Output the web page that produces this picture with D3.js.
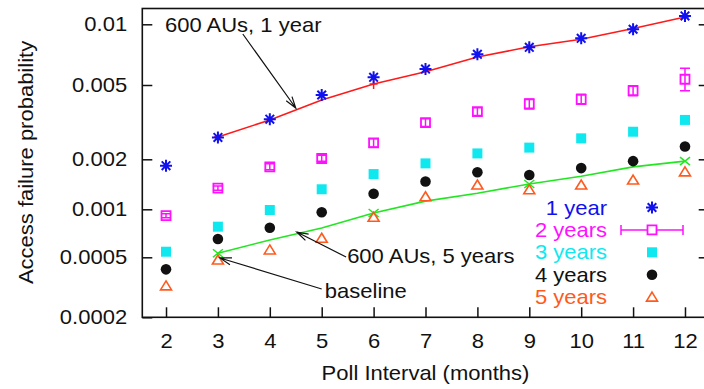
<!DOCTYPE html>
<html>
<head>
<meta charset="utf-8">
<script src="https://cdn.jsdelivr.net/npm/d3@7"></script>
<style>
  body { margin: 0; background: #fff; }
  svg { display: block; }
  text { font-family: "Liberation Sans", Arial, sans-serif; fill: #111; }
</style>
</head>
<body>
<svg id="chart" width="704" height="389"></svg>
<script>
// values
const polls = [2, 3, 4, 5, 6, 7, 8, 9, 10, 11, 12];
const oneYear = [0.00183, 0.00262, 0.00328, 0.00442, 0.00546, 0.0060, 0.0071, 0.00769, 0.00852, 0.00945, 0.0110];
const twoYears = [0.000912, 0.00134, 0.0018, 0.00202, 0.00245, 0.00314, 0.0036, 0.00396, 0.00419, 0.00466, 0.00534];
const twoYearsLo = [0.000885, 0.0013, 0.00173, 0.00195, 0.00233, 0.0030, 0.00343, 0.00372, 0.00394, 0.00438, 0.00466];
const twoYearsHi = [0.000937, 0.00138, 0.00188, 0.0021, 0.00258, 0.0033, 0.00378, 0.00421, 0.00446, 0.00496, 0.00605];
const threeYears = [0.000542, 0.000778, 0.00099, 0.00132, 0.00163, 0.00189, 0.00215, 0.00231, 0.00259, 0.00281, 0.00325];
const fourYears = [0.000416, 0.000651, 0.000766, 0.000958, 0.00124, 0.00147, 0.00167, 0.00161, 0.00177, 0.00195, 0.00234];
const fiveYears = [0.000323, 0.00048, 0.000556, 0.000658, 0.000891, 0.00119, 0.0014, 0.00131, 0.0014, 0.0015, 0.00168];

const modelPolls = [3, 4, 5, 6, 7, 8, 9, 10, 11, 12];
const model1Year = [0.00263, 0.00325, 0.00416, 0.00506, 0.00582, 0.00688, 0.00774, 0.00843, 0.00953, 0.01087];
const model5Year = [0.00053, 0.000642, 0.000763, 0.000948, 0.00112, 0.00125, 0.00142, 0.00158, 0.0018, 0.00195];
const modelMarkPolls = [3, 6, 9, 12];

const legendLabels = ["1 year", "2 years", "3 years", "4 years", "5 years"];
const xTicks = [2, 3, 4, 5, 6, 7, 8, 9, 10, 11, 12];
const yTicks = [0.01, 0.005, 0.002, 0.001, 0.0005, 0.0002];
const yTickLabels = ["0.01", "0.005", "0.002", "0.001", "0.0005", "0.0002"];

const svg = d3.select("#chart");
const plotLeft = 142.3, plotRight = 708.7, plotTop = 8.5, plotBottom = 317.3;

const x = d3.scaleLinear().domain([1.543, 12.457]).range([plotLeft, plotRight]);
// the printed axis is not evenly logarithmic, so pin each labelled tick
const yLog = d3.scaleLinear()
  .domain(yTicks.map(Math.log10))
  .range([24.3, 85, 159.3, 209.3, 257.3, plotBottom]);
const y = v => yLog(Math.log10(v));

const stretch = "scale(1.1,1)";
function label(tx, ty, str, anchor, color) {
  return svg.append("text")
    .attr("transform", `translate(${tx},${ty}) ${stretch}`)
    .attr("text-anchor", anchor || "start")
    .attr("font-size", 20)
    .style("fill", color || "#111")
    .text(str);
}

// frame
svg.append("rect")
  .attr("x", plotLeft).attr("y", plotTop)
  .attr("width", plotRight - plotLeft).attr("height", plotBottom - plotTop)
  .attr("fill", "none").attr("stroke", "#111").attr("stroke-width", 1.6);

// X axis
const gx = svg.append("g")
  .attr("transform", `translate(0,${plotBottom})`)
  .call(d3.axisBottom(x).tickValues(xTicks).tickSize(-10).tickPadding(17).tickFormat(d3.format("d")));
gx.select(".domain").remove();
gx.selectAll("line").attr("stroke", "#111").attr("stroke-width", 1.5);
gx.selectAll("text").attr("font-size", 20).attr("font-family", null).attr("transform", stretch);

// Y axis, left and right
const gy = svg.append("g")
  .attr("transform", `translate(${plotLeft},0)`)
  .call(d3.axisLeft(yLog).tickValues(yTicks.map(Math.log10)).tickSize(-10).tickPadding(13.8)
    .tickFormat((d, i) => yTickLabels[i]));
gy.select(".domain").remove();
gy.selectAll("line").attr("stroke", "#111").attr("stroke-width", 1.5);
gy.selectAll("text").attr("font-size", 20).attr("font-family", null).attr("transform", stretch);

const gy2 = svg.append("g")
  .attr("transform", `translate(${plotRight},0)`)
  .call(d3.axisRight(yLog).tickValues(yTicks.map(Math.log10).slice(0, 5)).tickSize(-10).tickFormat(""));
gy2.select(".domain").remove();
gy2.selectAll("line").attr("stroke", "#111").attr("stroke-width", 1.5);

// axis titles
label(425.5, 380, "Poll Interval (months)", "middle");
svg.append("text")
  .attr("transform", `translate(33,162.5) rotate(-90) ${stretch}`)
  .attr("text-anchor", "middle")
  .attr("font-size", 20)
  .text("Access failure probability");

// model lines
const line = d3.line().x(d => x(d[0])).y(d => y(d[1]));
svg.append("path")
  .datum(d3.zip(modelPolls, model1Year))
  .attr("d", line).attr("fill", "none").attr("stroke", "#ff1a1a").attr("stroke-width", 1.6);
svg.append("path")
  .datum(d3.zip(modelPolls, model5Year))
  .attr("d", line).attr("fill", "none").attr("stroke", "#22e622").attr("stroke-width", 1.6);

const m1 = d3.zip(modelPolls, model1Year).filter(d => modelMarkPolls.includes(d[0]));
svg.append("g").selectAll("path").data(m1).join("path")
  .attr("transform", d => `translate(${x(d[0])},${y(d[1])})`)
  .attr("d", "M-4,0H4M0,-4V5").attr("stroke", "#ff1a1a").attr("stroke-width", 1.5);
const m5 = d3.zip(modelPolls, model5Year).filter(d => modelMarkPolls.includes(d[0]));
svg.append("g").selectAll("path").data(m5).join("path")
  .attr("transform", d => `translate(${x(d[0])},${y(d[1])})`)
  .attr("d", "M-5,-4L5,4M-5,4L5,-4").attr("stroke", "#22e622").attr("stroke-width", 1.5);

// marker shapes
const shapes = {
  star: "M-6,0H6M0,-6V6M-4.3,-4.3L4.3,4.3M-4.3,4.3L4.3,-4.3",
  openSquare: "M-4.5,-4.5H4.5V4.5H-4.5Z",
  square: "M-5,-5H5V5H-5Z",
  triangle: "M0,-5L5.5,4H-5.5Z"
};
const styles = [
  { color: "#1010f0", draw: g => g.append("path").attr("d", shapes.star).attr("stroke", "#1010f0").attr("stroke-width", 2).attr("fill", "none") },
  { color: "#ff10ff", draw: g => g.append("path").attr("d", shapes.openSquare).attr("stroke", "#ff10ff").attr("stroke-width", 1.8).attr("fill", "none") },
  { color: "#10e8f0", draw: g => g.append("path").attr("d", shapes.square).attr("fill", "#10e8f0") },
  { color: "#111", draw: g => g.append("circle").attr("r", 5.3).attr("fill", "#111") },
  { color: "#ff5a1e", draw: g => g.append("path").attr("d", shapes.triangle).attr("stroke", "#ff5a1e").attr("stroke-width", 1.6).attr("fill", "none") }
];
const series = [oneYear, twoYears, threeYears, fourYears, fiveYears];

// error bars on 2-year series
const eb = svg.append("g").attr("stroke", "#ff10ff").attr("stroke-width", 1.5);
polls.forEach((p, i) => {
  const cx = x(p), y0 = y(twoYearsLo[i]), y1 = y(twoYearsHi[i]);
  eb.append("path").attr("d", `M${cx},${y0}V${y1}M${cx - 5},${y0}H${cx + 5}M${cx - 5},${y1}H${cx + 5}`);
});

series.forEach((vals, s) => {
  const g = svg.append("g");
  polls.forEach((p, i) => {
    const m = g.append("g").attr("transform", `translate(${x(p)},${y(vals[i])})`);
    styles[s].draw(m);
  });
});

// legend
const legendX = 607, legendSym = 652, legendTop = 207.5, legendStep = 22.4;
legendLabels.forEach((name, i) => {
  const ly = legendTop + i * legendStep;
  label(legendX, ly + 7, name, "end", styles[i].color);
  if (i === 1) {
    svg.append("path")
      .attr("d", `M621,${ly}H683M621,${ly - 5}V${ly + 5}M683,${ly - 5}V${ly + 5}`)
      .attr("stroke", "#ff10ff").attr("stroke-width", 1.5).attr("fill", "none");
  }
  const m = svg.append("g").attr("transform", `translate(${legendSym},${ly})`);
  styles[i].draw(m);
  if (i === 1) m.select("path").attr("fill", "#fff");
});

// annotations, placed in data coordinates
function arrow(x0, v0, x1, v1) {
  const ax = x(x0), ay = y(v0), bx = x(x1), by = y(v1);
  const ang = Math.atan2(by - ay, bx - ax), len = 12, spread = 0.3;
  const h1 = [bx - len * Math.cos(ang - spread), by - len * Math.sin(ang - spread)];
  const h2 = [bx - len * Math.cos(ang + spread), by - len * Math.sin(ang + spread)];
  svg.append("path")
    .attr("d", `M${ax},${ay}L${bx},${by}M${h1[0]},${h1[1]}L${bx},${by}L${h2[0]},${h2[1]}`)
    .attr("stroke", "#111").attr("stroke-width", 1.2).attr("fill", "none");
}
label(x(1.98), y(0.00916), "600 AUs, 1 year");
arrow(3.48, 0.00895, 4.5, 0.003765);
label(x(5.49), y(0.000458), "600 AUs, 5 years");
arrow(5.47, 0.000502, 4.52, 0.00072);
label(x(5.06), y(0.000269), "baseline");
arrow(5.0, 0.000308, 3.04, 0.000495);
</script>
</body>
</html>
